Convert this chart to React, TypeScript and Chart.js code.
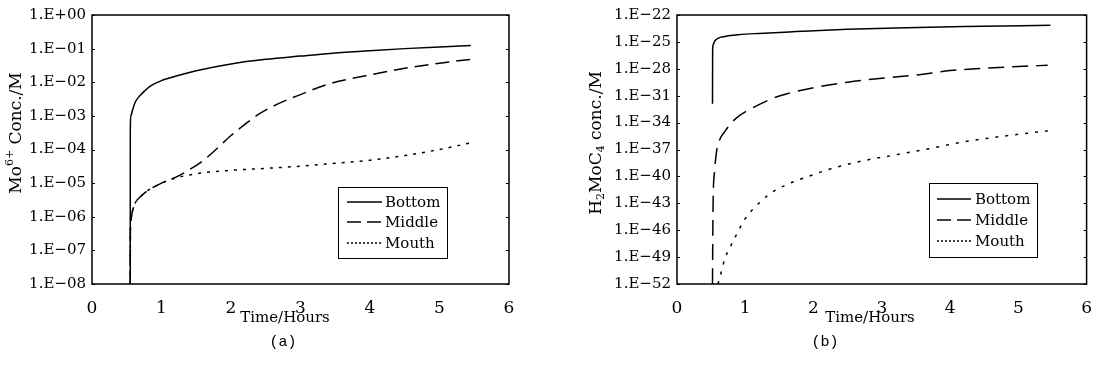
import React, { useEffect, useRef } from "react";
import { Chart, registerables } from "chart.js";

Chart.register(...registerables);

// ---------- DATA ----------
const seriesNames = ["Bottom", "Middle", "Mouth"];
const xTickValues = [0, 1, 2, 3, 4, 5, 6];
const leftYTicks = [1e0, 1e-1, 1e-2, 1e-3, 1e-4, 1e-5, 1e-6, 1e-7, 1e-8];
const rightYTicks = [1e-22, 1e-25, 1e-28, 1e-31, 1e-34, 1e-37, 1e-40, 1e-43, 1e-46, 1e-49, 1e-52];

// (a) Mo6+ concentration
const aBottomT = [0.55, 0.551, 0.56, 0.58, 0.62, 0.68, 0.76, 0.85, 1.0, 1.2, 1.5, 2.0, 2.5, 3.0, 3.5, 4.0, 4.5, 5.0, 5.45];
const aBottomC = [1e-8, 3.4e-4, 1e-3, 1.4e-3, 2.5e-3, 3.8e-3, 5.6e-3, 7.9e-3, 1.12e-2, 1.5e-2, 2.2e-2, 3.5e-2, 4.8e-2, 6.0e-2, 7.4e-2, 8.7e-2, 0.1, 0.112, 0.123];

const aMiddleT = [0.55, 0.552, 0.56, 0.58, 0.62, 0.7, 0.8, 0.9, 1.0, 1.2, 1.4, 1.6, 1.8, 2.0, 2.2, 2.4, 2.6, 2.8, 3.0, 3.33, 3.6, 4.0, 4.5, 5.0, 5.45];
const aMiddleC = [1e-8, 3.2e-7, 7.9e-7, 1.4e-6, 2.5e-6, 4.0e-6, 6.0e-6, 7.9e-6, 1.0e-5, 1.48e-5, 2.5e-5, 4.7e-5, 1.07e-4, 2.6e-4, 5.6e-4, 1.12e-3, 1.9e-3, 2.95e-3, 4.3e-3, 7.9e-3, 1.12e-2, 1.66e-2, 2.6e-2, 3.7e-2, 4.8e-2];

const aMouthT = [0.55, 0.552, 0.56, 0.58, 0.62, 0.7, 0.8, 0.9, 1.0, 1.2, 1.5, 2.0, 2.5, 3.0, 3.5, 4.0, 4.5, 5.0, 5.45];
const aMouthC = [1e-8, 3.2e-7, 7.9e-7, 1.4e-6, 2.5e-6, 4.0e-6, 6.0e-6, 7.9e-6, 1.0e-5, 1.41e-5, 1.9e-5, 2.4e-5, 2.75e-5, 3.2e-5, 3.9e-5, 4.8e-5, 6.6e-5, 1.0e-4, 1.58e-4];

// (b) H2MoC4 concentration
const bBottomT = [0.52, 0.522, 0.53, 0.55, 0.6, 0.7, 0.9, 1.2, 1.74, 2.5, 3.2, 4.2, 5.47];
const bBottomC = [1.26e-32, 1e-26, 5.0e-26, 1.12e-25, 2.5e-25, 4.0e-25, 6.3e-25, 8.9e-25, 1.41e-24, 2.5e-24, 3.5e-24, 5.2e-24, 7.1e-24];

const bMiddleT = [0.52, 0.525, 0.53, 0.55, 0.58, 0.62, 0.7, 0.8, 0.9, 1.0, 1.2, 1.4, 1.6, 2.0, 2.5, 3.0, 3.5, 4.0, 4.5, 5.0, 5.43];
const bMiddleC = [1e-52, 1e-46, 3.2e-43, 3.2e-40, 6.3e-38, 1e-36, 1e-35, 1e-34, 5.0e-34, 1.58e-33, 1e-32, 5.0e-32, 1.58e-31, 7.9e-31, 3.2e-30, 8.9e-30, 2.0e-29, 6.3e-29, 1.12e-28, 1.78e-28, 2.5e-28];

const bMouthT = [0.6, 0.63, 0.7, 0.77, 0.85, 1.0, 1.2, 1.35, 1.5, 1.74, 2.0, 2.23, 2.7, 3.2, 3.7, 4.16, 4.8, 5.46];
const bMouthC = [1e-52, 6.3e-52, 6.3e-50, 1e-48, 1.58e-47, 2.0e-45, 1e-43, 1e-42, 5.0e-42, 3.2e-41, 1.58e-40, 6.3e-40, 5.0e-39, 2.5e-38, 1.26e-37, 6.3e-37, 3.2e-36, 1.26e-35];

// ---------- HELPERS ----------
const SERIF = "'DejaVu Serif', serif";

function fmtExp(v: number) {
  const e = Math.round(Math.log10(v));
  const sign = e < 0 ? "\u2212" : "+";
  const a = Math.abs(e);
  return "1.E" + sign + (a < 10 ? "0" + a : String(a));
}

type Seg = { t: string; size: number; dy: number };

const decor = {
  id: "decor",
  afterDraw(chart: any, _args: any, opts: any) {
    const ctx: CanvasRenderingContext2D = chart.ctx;
    const a = chart.chartArea;
    ctx.save();
    ctx.strokeStyle = "#000";
    ctx.fillStyle = "#000";
    ctx.setLineDash([]);
    // frame
    ctx.lineWidth = 1.5;
    ctx.strokeRect(a.left, a.top, a.right - a.left, a.bottom - a.top);
    // small inner ticks
    ctx.lineWidth = 1;
    const ys = chart.scales.y;
    ys.ticks.forEach((t: any) => {
      const py = Math.round(ys.getPixelForValue(t.value)) + 0.5;
      ctx.beginPath();
      ctx.moveTo(a.left, py);
      ctx.lineTo(a.left + 3, py);
      ctx.moveTo(a.right - 3, py);
      ctx.lineTo(a.right, py);
      ctx.stroke();
    });
    // y title (rich text, rotated)
    const segs: Seg[] = opts.yTitle;
    let total = 0;
    segs.forEach((s) => {
      ctx.font = `${s.size}px ${SERIF}`;
      total += ctx.measureText(s.t).width;
    });
    ctx.save();
    ctx.translate(opts.yTitlePos[0], opts.yTitlePos[1]);
    ctx.rotate(-Math.PI / 2);
    ctx.textBaseline = "middle";
    ctx.textAlign = "left";
    let x = -total / 2;
    segs.forEach((s) => {
      ctx.font = `${s.size}px ${SERIF}`;
      ctx.fillText(s.t, x, s.dy);
      x += ctx.measureText(s.t).width;
    });
    ctx.restore();
    // x title
    ctx.textAlign = "center";
    ctx.textBaseline = "middle";
    ctx.font = `15px ${SERIF}`;
    ctx.fillText("Time/Hours", opts.xTitlePos[0], opts.xTitlePos[1]);
    // caption
    ctx.font = "15px 'Liberation Mono', monospace";
    ctx.fillText(opts.caption, opts.captionPos[0], opts.captionPos[1]);
    // legend
    const lg = opts.legend;
    ctx.lineWidth = 1;
    ctx.strokeRect(lg.x + 0.5, lg.y + 0.5, lg.w, lg.h);
    ctx.textAlign = "left";
    ctx.font = `15px ${SERIF}`;
    chart.data.datasets.forEach((ds: any, i: number) => {
      const ry = lg.rows[i];
      ctx.save();
      ctx.lineWidth = 1.3;
      ctx.setLineDash(lg.dashes[i]);
      ctx.beginPath();
      ctx.moveTo(lg.sx0, ry);
      ctx.lineTo(lg.sx1, ry);
      ctx.stroke();
      ctx.restore();
      ctx.fillText(ds.label, lg.tx, ry + 1);
    });
    ctx.restore();
  },
};

function makeConfig(p: any) {
  return {
    type: "line",
    data: {
      datasets: p.series.map((s: any, i: number) => ({
        label: seriesNames[i],
        data: s.t.map((t: number, j: number) => ({ x: t, y: s.c[j] })),
        borderColor: "#000",
        borderWidth: 1.5,
        borderDash: p.dashes[i],
        pointRadius: 0,
        fill: false,
        cubicInterpolationMode: "monotone",
      })),
    },
    options: {
      animation: false,
      responsive: false,
      layout: { padding: { left: 0, right: p.padRight, top: p.padTop, bottom: 0 } },
      plugins: {
        legend: { display: false },
        tooltip: { enabled: false },
        decor: p.decor,
      },
      scales: {
        x: {
          type: "linear",
          min: 0,
          max: 6,
          afterBuildTicks: (s: any) => {
            s.ticks = xTickValues.map((v) => ({ value: v }));
          },
          afterFit: (s: any) => {
            s.height = 86;
          },
          grid: { display: false, drawTicks: false },
          border: { display: false },
          ticks: {
            padding: 14,
            color: "#000",
            maxRotation: 0,
            autoSkip: false,
            font: { family: SERIF, size: 17 },
            callback: (v: any) => String(v),
          },
        },
        y: {
          type: "logarithmic",
          min: p.yMin,
          max: p.yMax,
          afterBuildTicks: (s: any) => {
            s.ticks = p.yTicks.map((v: number) => ({ value: v }));
          },
          afterFit: (s: any) => {
            s.width = p.yWidth;
          },
          grid: { display: false, drawTicks: false },
          border: { display: false },
          ticks: {
            padding: 6,
            color: "#000",
            autoSkip: false,
            font: { family: SERIF, size: 15 },
            callback: (v: any) => fmtExp(Number(v)),
          },
        },
      },
    },
    plugins: [decor],
  };
}

const leftConfig = () =>
  makeConfig({
    series: [
      { t: aBottomT, c: aBottomC },
      { t: aMiddleT, c: aMiddleC },
      { t: aMouthT, c: aMouthC },
    ],
    dashes: [[], [14, 7], [3, 6]],
    yMin: 1e-8,
    yMax: 1,
    yTicks: leftYTicks,
    yWidth: 92,
    padRight: 44,
    padTop: 12,
    decor: {
      yTitle: [
        { t: "Mo", size: 17, dy: 0 },
        { t: "6+", size: 11, dy: -7 },
        { t: " Conc./M", size: 17, dy: 0 },
      ],
      yTitlePos: [17, 133],
      xTitlePos: [285, 318],
      caption: "(a)",
      captionPos: [283, 342],
      legend: {
        x: 338, y: 187, w: 109, h: 71,
        rows: [202, 222, 243],
        sx0: 347, sx1: 382, tx: 385,
        dashes: [[], [14, 6], [2, 2]],
      },
    },
  });

const rightConfig = () =>
  makeConfig({
    series: [
      { t: bBottomT, c: bBottomC },
      { t: bMiddleT, c: bMiddleC },
      { t: bMouthT, c: bMouthC },
    ],
    dashes: [[], [16, 8], [3, 7]],
    yMin: 1e-52,
    yMax: 1e-22,
    yTicks: rightYTicks,
    yWidth: 124,
    padRight: 17,
    padTop: 14,
    decor: {
      yTitle: [
        { t: "H", size: 17, dy: 0 },
        { t: "2", size: 11, dy: 4 },
        { t: "MoC", size: 17, dy: 0 },
        { t: "4", size: 11, dy: 4 },
        { t: " conc./M", size: 17, dy: 0 },
      ],
      yTitlePos: [44, 143],
      xTitlePos: [317, 318],
      caption: "(b)",
      captionPos: [272, 342],
      legend: {
        x: 376, y: 183, w: 108, h: 74,
        rows: [199, 220, 241],
        sx0: 384, sx1: 418, tx: 422,
        dashes: [[], [14, 6], [2, 2]],
      },
    },
  });

function Panel({ build, left }: { build: () => any; left: number }) {
  const ref = useRef<HTMLCanvasElement>(null);
  useEffect(() => {
    const chart = new Chart(ref.current as HTMLCanvasElement, build());
    return () => chart.destroy();
  }, []);
  return (
    <canvas
      ref={ref}
      width={553}
      height={370}
      style={{ position: "absolute", left, top: 0, width: 553, height: 370 }}
    />
  );
}

export default function App() {
  return (
    <div style={{ position: "absolute", left: 0, top: 0, width: 1106, height: 370, background: "#fff" }}>
      <Panel build={leftConfig} left={0} />
      <Panel build={rightConfig} left={553} />
    </div>
  );
}
